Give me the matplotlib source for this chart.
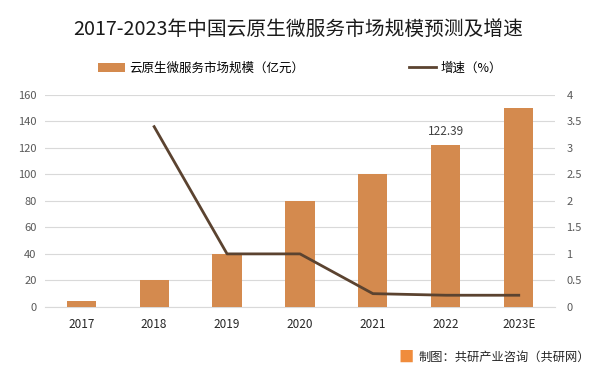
import matplotlib.pyplot as plt

years = ["2017", "2018", "2019", "2020", "2021", "2022", "2023E"]
market = [4.5, 20, 40, 80, 100, 122.39, 150]
growth = [None, 3.4, 1.0, 1.0, 0.25, 0.22, 0.22]

plt.rcParams["font.family"] = ["Noto Sans CJK SC", "DejaVu Sans"]

fig = plt.figure(figsize=(5.97, 3.72), dpi=100)
ax = fig.add_axes([0.075, 0.175, 0.855, 0.57])
ax2 = ax.twinx()

x = list(range(len(years)))
ax.bar(x, market, width=0.4, color="#D48A4E", zorder=3, label="云原生微服务市场规模（亿元）")
gx = [i for i, g in zip(x, growth) if g is not None]
gy = [g for g in growth if g is not None]
ax2.plot(gx, gy, color="#5B4330", lw=2, label="增速（%）")

ax.text(5, market[5] + 5, f"{market[5]:.2f}", ha="center", va="bottom", fontsize=8.5, color="#404040")

ax.set_ylim(0, 160)
ax.set_yticks(range(0, 161, 20))
ax2.set_ylim(0, 4)
ax2.set_yticks([0, 0.5, 1, 1.5, 2, 2.5, 3, 3.5, 4])
ax2.set_yticklabels(["0", "0.5", "1", "1.5", "2", "2.5", "3", "3.5", "4"])
ax.set_xlim(-0.5, 6.5)
ax.set_xticks(x)
ax.set_xticklabels(years)

ax.grid(axis="y", color="#d9d9d9", lw=0.8, zorder=0)
ax.set_axisbelow(True)
for a in (ax, ax2):
    for s in a.spines.values():
        s.set_visible(False)
    a.tick_params(length=0, labelsize=8, colors="#595959")
ax.tick_params(axis="x", colors="#262626", pad=8, labelsize=8.5)
ax.tick_params(axis="y", pad=6)
ax2.tick_params(axis="y", pad=8)
ax.spines["bottom"].set_visible(True)
ax.spines["bottom"].set_color("#d9d9d9")

fig.text(0.5, 0.92, "2017-2023年中国云原生微服务市场规模预测及增速", ha="center", va="center",
         fontsize=14.2, color="#1a1a1a")

h1, l1 = ax.get_legend_handles_labels()
h2, l2 = ax2.get_legend_handles_labels()
fig.legend(h1 + h2, l1 + l2, loc="center", bbox_to_anchor=(0.502, 0.817), ncol=2, frameon=False,
           fontsize=9, columnspacing=8.4, handlelength=2.2, handletextpad=0.3)

fig.text(0.68, 0.04, "■", color="#F08C3C", fontsize=11, ha="center", va="center")
fig.text(0.988, 0.04, "制图：共研产业咨询（共研网）", ha="right", va="center", fontsize=8.8, color="#262626")

fig.savefig("out.png", dpi=100)
